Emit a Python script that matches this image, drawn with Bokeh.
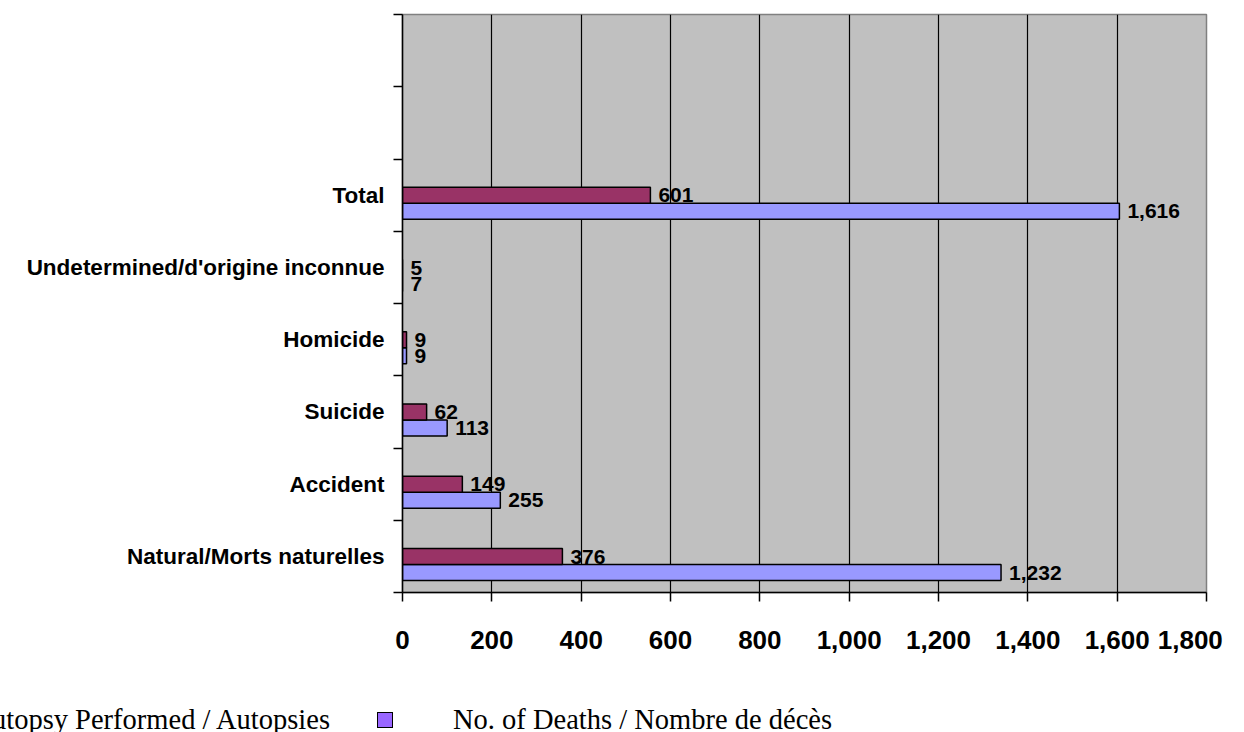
from bokeh.plotting import figure
from bokeh.models import (Range1d, FixedTicker, ColumnDataSource,
                          NumeralTickFormatter, Div)
from bokeh.layouts import column
from bokeh.embed import file_html
from bokeh.resources import INLINE
from bokeh.core.properties import value

# ---- data ----
categories = ["Natural/Morts naturelles", "Accident", "Suicide", "Homicide",
              "Undetermined/d'origine inconnue", "Total"]
autopsy_bar = [358, 134, 54, 9, 0, 555]          # bar lengths as drawn
deaths_bar = [1340, 219, 100, 9, 0, 1605]
autopsy_labels = ["376", "149", "62", "9", "5", "601"]   # printed data labels
deaths_labels = ["1,232", "255", "113", "9", "7", "1,616"]
x_ticks = [0, 200, 400, 600, 800, 1000, 1200, 1400, 1600, 1800]
n_slots = 8
legend_autopsy = "Autopsy Performed / Autopsies"
legend_deaths = "No. of Deaths / Nombre de décès"

FONT = "Liberation Sans"
SERIF = "Liberation Serif"
MAROON = "#993366"
LAVENDER = "#9999FF"
MARKER = "#9966FF"

W = 1244
PH, LH = 700, 32                               # plot part, legend strip
LEFT, RIGHT, TOP, BOTTOM = 402, 38, 14, 108    # frame: x 402..1206, y 14..592

idx = list(range(len(categories)))
src = ColumnDataSource(dict(
    a=autopsy_bar, d=deaths_bar,
    ya=[i + 0.498 for i in idx], yd=[i + 0.2765 for i in idx],
    la=autopsy_labels, ld=deaths_labels,
))

p = figure(width=W, height=PH, output_backend="svg", toolbar_location=None,
           title=None,
           x_range=Range1d(0, 1800), y_range=Range1d(0, n_slots),
           min_border_left=LEFT, min_border_right=RIGHT, min_border_top=TOP,
           min_border_bottom=BOTTOM)
p.background_fill_color = "#C0C0C0"
p.border_fill_color = "white"
p.outline_line_color = "#808080"
p.outline_line_width = 1.5

p.hbar(y="yd", right="d", left=0, height=0.221, source=src,
       fill_color=LAVENDER, line_color="black", line_width=1.5)
p.hbar(y="ya", right="a", left=0, height=0.222, source=src,
       fill_color=MAROON, line_color="black", line_width=1.5)

for xcol, ycol, tcol in (("a", "ya", "la"), ("d", "yd", "ld")):
    p.text(x=xcol, y=ycol, text=tcol, source=src, x_offset=8,
           text_baseline="middle", text_align="left",
           text_font=value(FONT), text_font_style="bold",
           text_font_size="21px", text_color="black")

# x axis
xa = p.xaxis[0]
xa.ticker = FixedTicker(ticks=x_ticks)
xa.formatter = NumeralTickFormatter(format="0,0")
xa.major_label_overrides = {x_ticks[-1]: f"{x_ticks[-1]:,}" + "\u00a0" * 3}
xa.axis_line_color = "black"
xa.axis_line_width = 1.5
xa.major_tick_in = 0
xa.major_tick_out = 9
xa.major_tick_line_width = 1.5
xa.minor_tick_line_color = None
xa.major_label_standoff = 23
xa.major_label_text_font = FONT
xa.major_label_text_font_style = "bold"
xa.major_label_text_font_size = "26px"
xa.major_label_text_color = "black"

# y axis (category labels at slot centres, ticks at slot boundaries)
ya = p.yaxis[0]
ya.ticker = FixedTicker(ticks=[i + 0.5 for i in idx],
                        minor_ticks=list(range(n_slots + 1)))
ya.major_label_overrides = {i + 0.5: c for i, c in zip(idx, categories)}
ya.axis_line_color = "black"
ya.axis_line_width = 1.5
ya.major_tick_line_color = None
ya.major_tick_in = 0
ya.major_tick_out = 0
ya.minor_tick_in = 0
ya.minor_tick_out = 9
ya.minor_tick_line_color = "black"
ya.minor_tick_line_width = 1.5
ya.major_label_standoff = 9
ya.major_label_text_font = FONT
ya.major_label_text_font_style = "bold"
ya.major_label_text_font_size = "22.5px"
ya.major_label_text_color = "black"

p.xgrid.grid_line_color = "black"
p.xgrid.grid_line_width = 1.2
p.ygrid.grid_line_color = None

# legend strip below the chart (page y 700..732)
span = ("position:absolute;white-space:nowrap;line-height:1;top:6px;"
        "font-family:'%s';font-size:28.5px;color:black;" % SERIF)
legend_html = (
    '<div style="position:relative;width:%dpx;height:%dpx;overflow:visible;">'
    '<span style="%sright:%dpx;">%s</span>'
    '<span style="position:absolute;box-sizing:border-box;left:377px;'
    'top:12px;width:16px;height:16px;background:%s;'
    'border:1.5px solid black;"></span>'
    '<span style="%sleft:453px;">%s</span>'
    '</div>'
) % (W, LH, span, W - 330, legend_autopsy, MARKER, span, legend_deaths)

legend = Div(text=legend_html, width=W, height=LH, margin=0)

layout = column(p, legend, spacing=0)

open("out.html", "w").write(file_html(layout, INLINE))
